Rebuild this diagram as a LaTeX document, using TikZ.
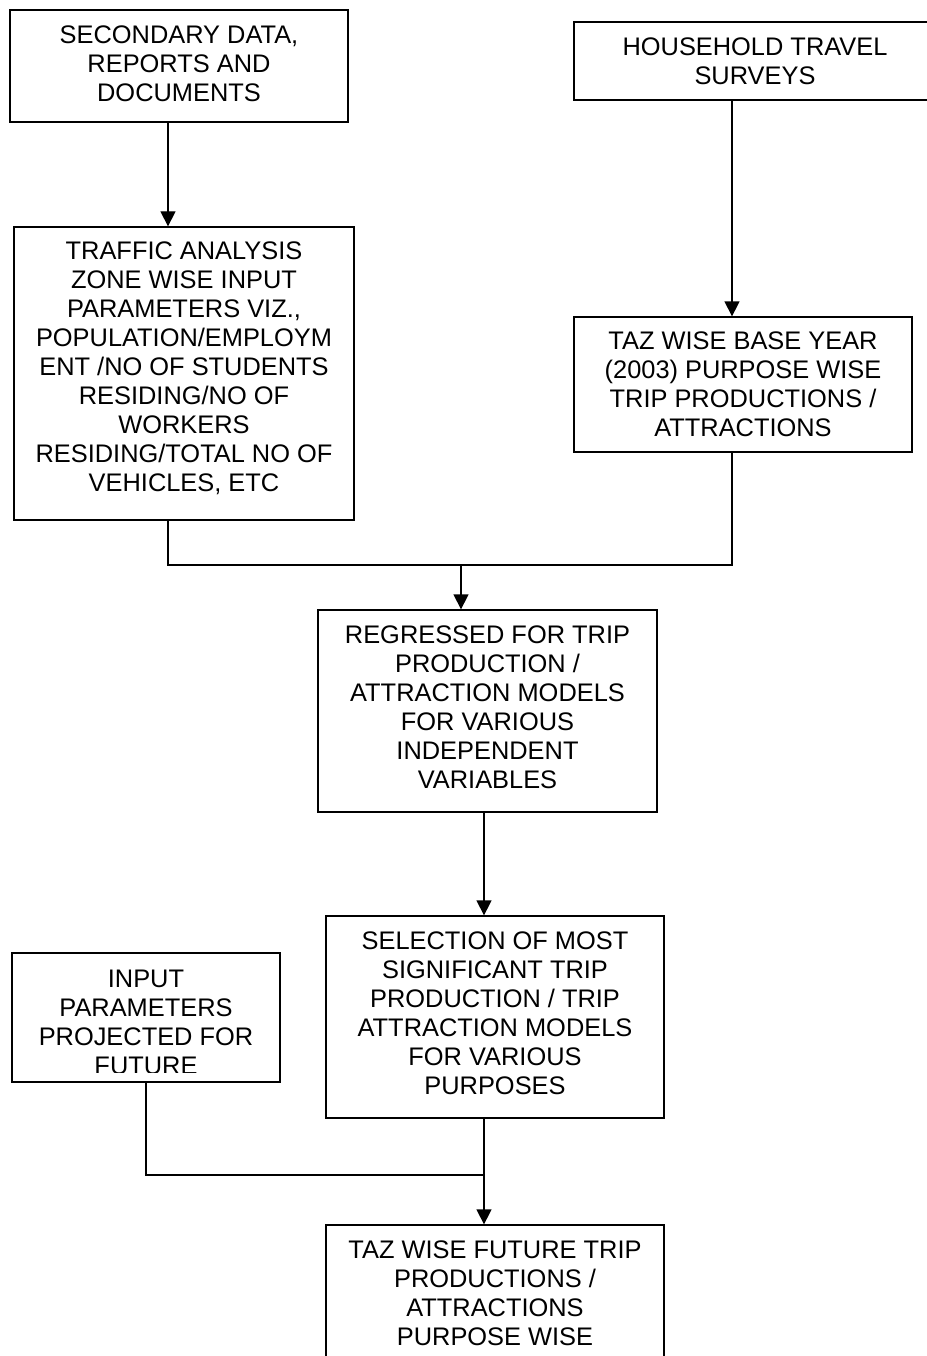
\documentclass[tikz,border=0pt]{standalone}
\usepackage{fontspec}
\setmainfont{Liberation Sans}
\usetikzlibrary{arrows.meta}
\newcommand\boxfont{\fontsize{25.4}{29}\selectfont}
\tikzset{
  box/.style={draw, line width=1.3pt, align=center, inner sep=0pt, font=\boxfont},
  txt/.style={align=center, inner sep=0pt, font=\boxfont},
  ln/.style={line width=1.3pt},
  arr/.style={line width=1.3pt, -{Triangle[width=15pt,length=15pt]}}
}
\begin{document}
\begin{tikzpicture}[x=1pt,y=-1pt]
\useasboundingbox (0,0) rectangle (926,1356);
% boxes
\node[box, minimum width=338pt, minimum height=112pt] (sec) at (179,66) {};
\node[txt] (sectxt) at (179,64)
  {SECONDARY DATA,\\REPORTS AND\\DOCUMENTS};
\node[box, minimum width=362pt, minimum height=78pt] (hh) at (755,61)
  {HOUSEHOLD TRAVEL\\SURVEYS};
\node[box, minimum width=340pt, minimum height=293pt] (traf) at (184,373.5) {};
\node[txt] (traftxt) at (184,368.5)
  {TRAFFIC ANALYSIS\\ZONE WISE INPUT\\PARAMETERS VIZ.,\\POPULATION/EMPLOYM\\ENT /NO OF STUDENTS\\RESIDING/NO OF\\WORKERS\\RESIDING/TOTAL NO OF\\VEHICLES, ETC};
\node[box, minimum width=338pt, minimum height=135pt] (base) at (743,384.5)
  {TAZ WISE BASE YEAR\\(2003) PURPOSE WISE\\TRIP PRODUCTIONS /\\ATTRACTIONS};
\node[box, minimum width=339pt, minimum height=202pt] (reg) at (487.5,711) {};
\node[txt] (regtxt) at (487.5,707.5)
  {REGRESSED FOR TRIP\\PRODUCTION /\\ATTRACTION MODELS\\FOR VARIOUS\\INDEPENDENT\\VARIABLES};
\node[box, minimum width=338pt, minimum height=202pt] (sel) at (495,1017) {};
\node[txt] (seltxt) at (495,1013.5)
  {SELECTION OF MOST\\SIGNIFICANT TRIP\\PRODUCTION / TRIP\\ATTRACTION MODELS\\FOR VARIOUS\\PURPOSES};
\node[box, minimum width=268pt, minimum height=129pt] (inp) at (146,1017.5) {};
\begin{scope}
  \clip (inp.north west) rectangle (280,1072);
  \node[txt] (inptxt) at (146,1022) {INPUT\\PARAMETERS\\PROJECTED FOR\\FUTURE};
\end{scope}
\node[box, minimum width=338pt, minimum height=136pt] (fut) at (495,1293)
  {TAZ WISE FUTURE TRIP\\PRODUCTIONS /\\ATTRACTIONS\\PURPOSE WISE};
% connector coordinates
\coordinate (xa) at (168,0);
\coordinate (xb) at (732,0);
\coordinate (xc) at (461,0);
\coordinate (xd) at (484,0);
\coordinate (xe) at (146,0);
\coordinate (ya) at (0,565);
\coordinate (yb) at (0,1175);
% connectors
\draw[arr] (sec.south -| xa) -- (traf.north -| xa);
\draw[arr] (hh.south -| xb) -- (base.north -| xb);
\draw[ln] (traf.south -| xa) -- (xa |- ya) -- (xb |- ya) -- (base.south -| xb);
\draw[arr] (xc |- ya) -- (reg.north -| xc);
\draw[arr] (reg.south -| xd) -- (sel.north -| xd);
\draw[ln] (inp.south -| xe) -- (xe |- yb) -- (xd |- yb);
\draw[arr] (sel.south -| xd) -- (fut.north -| xd);
\end{tikzpicture}
\end{document}
